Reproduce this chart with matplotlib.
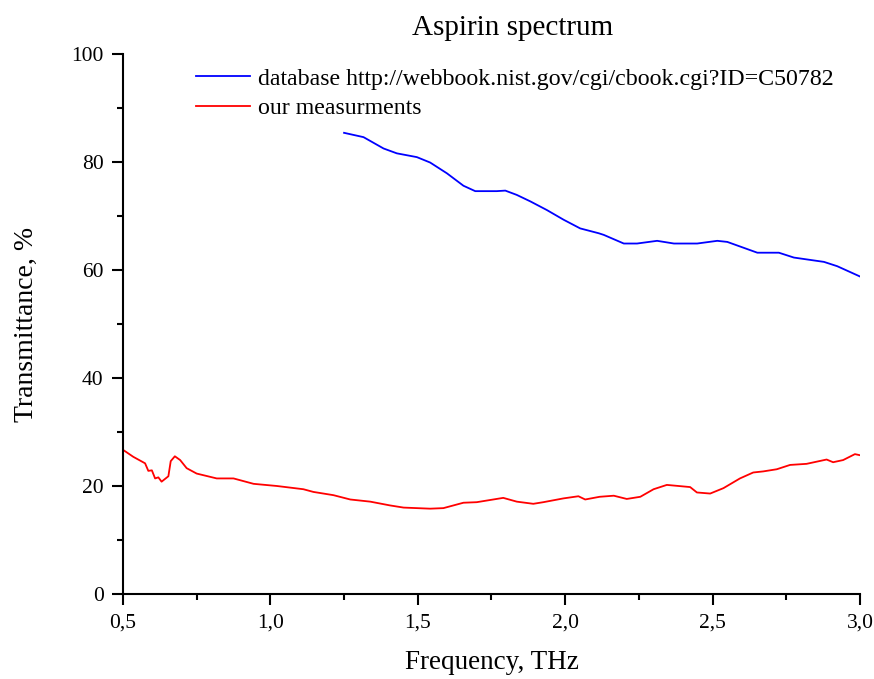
import matplotlib
matplotlib.use("Agg")
import matplotlib.pyplot as plt
from matplotlib.ticker import MultipleLocator, FuncFormatter

plt.rcParams['font.family'] = ['Liberation Serif', 'DejaVu Serif']

# database curve (NIST webbook)
db_freq = [1.25, 1.316, 1.384, 1.429, 1.497, 1.542, 1.599, 1.655, 1.695, 1.768,
           1.797, 1.836, 1.882, 1.938, 1.995, 2.051, 2.114, 2.131, 2.199, 2.244,
           2.312, 2.369, 2.448, 2.516, 2.550, 2.652, 2.725, 2.776, 2.878, 2.923, 3.0]
db_trans = [85.4, 84.6, 82.5, 81.6, 80.9, 79.9, 77.9, 75.6, 74.6, 74.6,
            74.7, 73.9, 72.7, 71.1, 69.3, 67.7, 66.8, 66.5, 64.9, 64.9,
            65.4, 64.9, 64.9, 65.4, 65.2, 63.2, 63.2, 62.3, 61.5, 60.7, 58.8]

# our measurements
our_freq = [0.5, 0.535, 0.575, 0.586, 0.598, 0.609, 0.620, 0.631, 0.654, 0.662,
            0.676, 0.694, 0.716, 0.750, 0.818, 0.875, 0.943, 1.022, 1.112, 1.146,
            1.214, 1.271, 1.339, 1.406, 1.452, 1.542, 1.587, 1.655, 1.700, 1.745,
            1.790, 1.836, 1.892, 1.926, 1.994, 2.045, 2.068, 2.117, 2.165, 2.209,
            2.255, 2.300, 2.345, 2.424, 2.447, 2.492, 2.537, 2.593, 2.638, 2.672,
            2.718, 2.763, 2.819, 2.887, 2.909, 2.943, 2.983, 3.0]
our_trans = [26.7, 25.4, 24.2, 22.8, 22.9, 21.4, 21.6, 20.8, 21.8, 24.6,
             25.5, 24.8, 23.3, 22.3, 21.4, 21.4, 20.4, 20.0, 19.4, 18.9,
             18.3, 17.5, 17.1, 16.4, 16.0, 15.8, 15.9, 16.9, 17.0, 17.4,
             17.8, 17.1, 16.7, 17.0, 17.7, 18.1, 17.5, 18.0, 18.2, 17.6,
             18.0, 19.4, 20.2, 19.8, 18.8, 18.6, 19.6, 21.4, 22.5, 22.7,
             23.1, 23.9, 24.1, 24.9, 24.4, 24.8, 25.9, 25.7]

fig = plt.figure(figsize=(8.74, 6.79), dpi=100)
ax = fig.add_axes([0.1407, 0.1252, 0.8432, 0.7953])

ax.plot(db_freq, db_trans, color='#0000ff', lw=1.3,
        label='database http://webbook.nist.gov/cgi/cbook.cgi?ID=C50782')
ax.plot(our_freq, our_trans, color='#ff0000', lw=1.3, label='our measurments')

ax.set_xlim(0.5, 3.0)
ax.set_ylim(0, 100)
ax.xaxis.set_major_locator(MultipleLocator(0.5))
ax.xaxis.set_minor_locator(MultipleLocator(0.25))
ax.yaxis.set_major_locator(MultipleLocator(20))
ax.yaxis.set_minor_locator(MultipleLocator(10))
ax.xaxis.set_major_formatter(FuncFormatter(lambda v, p: f"{v:.1f}".replace('.', ',')))

for s in ['top', 'right']:
    ax.spines[s].set_visible(False)
for s in ['left', 'bottom']:
    ax.spines[s].set_linewidth(1.5)
ax.tick_params(which='major', direction='out', length=8, width=1.5, labelsize=15.5, pad=6)
ax.tick_params(which='minor', direction='out', length=4.5, width=1.5)

ax.set_xlabel('Frequency, THz', fontsize=19.5, labelpad=13)
ax.set_ylabel('Transmittance, %', fontsize=20, labelpad=23)
ax.set_title('Aspirin spectrum', fontsize=21, pad=14, x=0.528)

ax.legend(loc='upper left', bbox_to_anchor=(0.070, 1.014), frameon=False,
          fontsize=17.2, handlelength=2.25, handletextpad=0.35, labelspacing=0.33)

fig.savefig('out.png', dpi=100)
